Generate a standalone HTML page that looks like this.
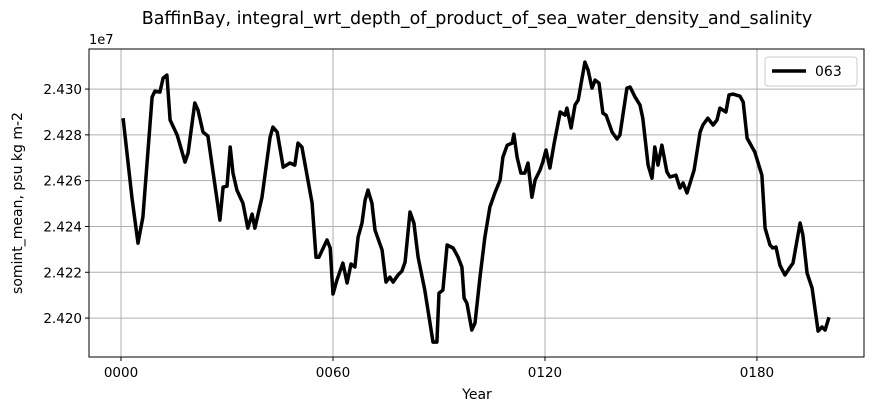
<!DOCTYPE html>
<html><head><meta charset="utf-8"><style>
body{margin:0;background:#fff;font-family:"Liberation Sans","DejaVu Sans",sans-serif}
</style></head><body>
<svg id="chart" width="874" height="412" xmlns="http://www.w3.org/2000/svg" font-family="DejaVu Sans, Liberation Sans, sans-serif">
<g id="grid"></g>
<g id="axes"></g>
<path id="line" fill="none" stroke="#000" stroke-width="3.5" stroke-linejoin="round"/>
<rect x="89" y="49" width="775" height="308" fill="none" stroke="#000" stroke-width="1"/>
<text x="477" y="24" text-anchor="middle" font-size="17.5">BaffinBay, integral_wrt_depth_of_product_of_sea_water_density_and_salinity</text>
<text x="89" y="44" font-size="13">1e7</text>
<text x="477" y="399" text-anchor="middle" font-size="14">Year</text>
<text transform="translate(22,203) rotate(-90)" text-anchor="middle" font-size="14">somint_mean, psu kg m-2</text>
<g>
<rect x="765" y="57" width="92" height="29" rx="3" fill="#fff" stroke="#ccc"/>
<line x1="772" y1="71" x2="806" y2="71" stroke="#000" stroke-width="3.5"/>
<text x="815" y="76" font-size="14">063</text>
</g>
</svg>
<script>
const years=[0.6,3.1,4.8,6.2,8.8,9.6,11.0,11.9,13.0,13.9,15.9,18.1,19.0,20.9,21.8,23.2,24.6,27.2,28.0,28.9,30.0,30.9,31.7,32.8,34.5,35.9,37.1,37.9,39.9,42.2,43.0,44.2,45.9,47.8,49.2,50.1,51.2,52.9,54.1,55.2,56.0,58.3,59.2,60.0,61.1,62.8,64.0,65.1,66.2,67.1,68.2,69.1,69.9,71.0,71.9,73.9,75.0,76.1,77.0,78.4,79.5,80.4,81.8,82.9,84.1,86.0,88.3,89.4,90.0,91.1,92.3,94.0,95.4,96.5,97.1,97.9,99.3,100.2,101.6,103.0,104.4,105.9,107.3,108.1,109.3,110.7,111.2,112.1,113.2,114.3,115.2,116.3,117.2,118.6,119.4,120.3,121.4,122.6,124.3,125.7,126.2,127.4,128.5,129.4,131.3,132.2,133.3,134.2,135.3,136.4,137.3,139.0,140.4,141.2,143.2,144.1,145.5,146.9,147.7,149.2,150.3,151.1,152.0,153.1,154.5,155.4,157.1,158.2,159.1,160.2,162.2,163.9,164.7,166.1,167.6,168.7,169.5,171.2,172.1,173.2,175.2,176.1,177.2,178.6,179.4,181.4,182.3,183.7,184.5,185.4,186.5,187.9,189.4,190.2,192.2,193.0,194.2,195.6,197.3,198.4,199.3,200.4];
const values=[2.42873,2.42524,2.42327,2.42441,2.42965,2.42991,2.42987,2.43048,2.43061,2.42865,2.42799,2.42681,2.42721,2.42939,2.42908,2.42812,2.42795,2.42515,2.42428,2.42572,2.42576,2.42747,2.42633,2.42559,2.42502,2.42393,2.42454,2.42393,2.42528,2.42790,2.42834,2.42812,2.42659,2.42677,2.42668,2.42764,2.42747,2.42603,2.42502,2.42266,2.42266,2.42341,2.42306,2.42105,2.42166,2.42240,2.42153,2.42236,2.42223,2.42354,2.42415,2.42515,2.42559,2.42502,2.42384,2.42297,2.42157,2.42179,2.42157,2.42188,2.42205,2.42245,2.42463,2.42415,2.42266,2.42122,2.41895,2.41895,2.42109,2.42122,2.42319,2.42306,2.42266,2.42223,2.42087,2.42065,2.41948,2.41978,2.42179,2.42354,2.42485,2.42550,2.42603,2.42703,2.42755,2.42764,2.42803,2.42703,2.42633,2.42633,2.42677,2.42528,2.42603,2.42646,2.42681,2.42734,2.42655,2.42764,2.42900,2.42886,2.42917,2.42830,2.42930,2.42952,2.43118,2.43083,2.43004,2.43039,2.43026,2.42895,2.42886,2.42812,2.42782,2.42799,2.43004,2.43009,2.42965,2.42930,2.42873,2.42668,2.42611,2.42747,2.42668,2.42755,2.42638,2.42616,2.42624,2.42568,2.42590,2.42546,2.42646,2.42812,2.42843,2.42873,2.42843,2.42865,2.42917,2.42900,2.42974,2.42978,2.42969,2.42943,2.42786,2.42747,2.42725,2.42624,2.42393,2.42319,2.42306,2.42310,2.42231,2.42188,2.42223,2.42240,2.42415,2.42362,2.42196,2.42131,2.41943,2.41961,2.41948,2.42004];
const xTicks=[0,60,120,180];
const xTickLabels=["0000","0060","0120","0180"];
const yTicks=[2.420,2.422,2.424,2.426,2.428,2.430];
const yTickLabels=["2.420","2.422","2.424","2.426","2.428","2.430"];
const X0=89,X1=864,Y0=49,Y1=357;
const xMin=-9.06,xMax=210.3,yMin=2.41830,yMax=2.43175;
const sx=v=>X0+(v-xMin)/(xMax-xMin)*(X1-X0);
const sy=v=>Y1-(v-yMin)/(yMax-yMin)*(Y1-Y0);
const NS="http://www.w3.org/2000/svg";
const grid=document.getElementById('grid'),axes=document.getElementById('axes');
function mk(tag,attrs,parent){const e=document.createElementNS(NS,tag);for(const k in attrs)e.setAttribute(k,attrs[k]);parent.appendChild(e);return e;}
xTicks.forEach((t,i)=>{const x=sx(t);
 const g=mk('line',{x1:x,x2:x,y1:Y0,y2:Y1,stroke:'#b0b0b0','stroke-width':1},grid);
 
 
 const tk=mk('line',{x1:x,x2:x,y1:Y1,y2:Y1+4,stroke:'#000'},axes);
 
 
 const tx=mk('text',{x:x,y:Y1+20,'text-anchor':'middle','font-size':13.5},axes);
 
 
 tx.textContent=xTickLabels[i];});
yTicks.forEach((t,i)=>{const y=sy(t);
 const g=mk('line',{x1:X0,x2:X1,y1:y,y2:y,stroke:'#b0b0b0','stroke-width':1},grid);
 
 
 const tk=mk('line',{x1:X0-4,x2:X0,y1:y,y2:y,stroke:'#000'},axes);
 
 
 const tx=mk('text',{x:X0-7,y:y+5,'text-anchor':'end','font-size':13.5},axes);
 
 
 tx.textContent=yTickLabels[i];});
document.getElementById('line').setAttribute('d',years.map((yr,i)=>(i?'L':'M')+sx(yr).toFixed(1)+','+sy(values[i]).toFixed(1)).join(''));
</script>
</body></html>
